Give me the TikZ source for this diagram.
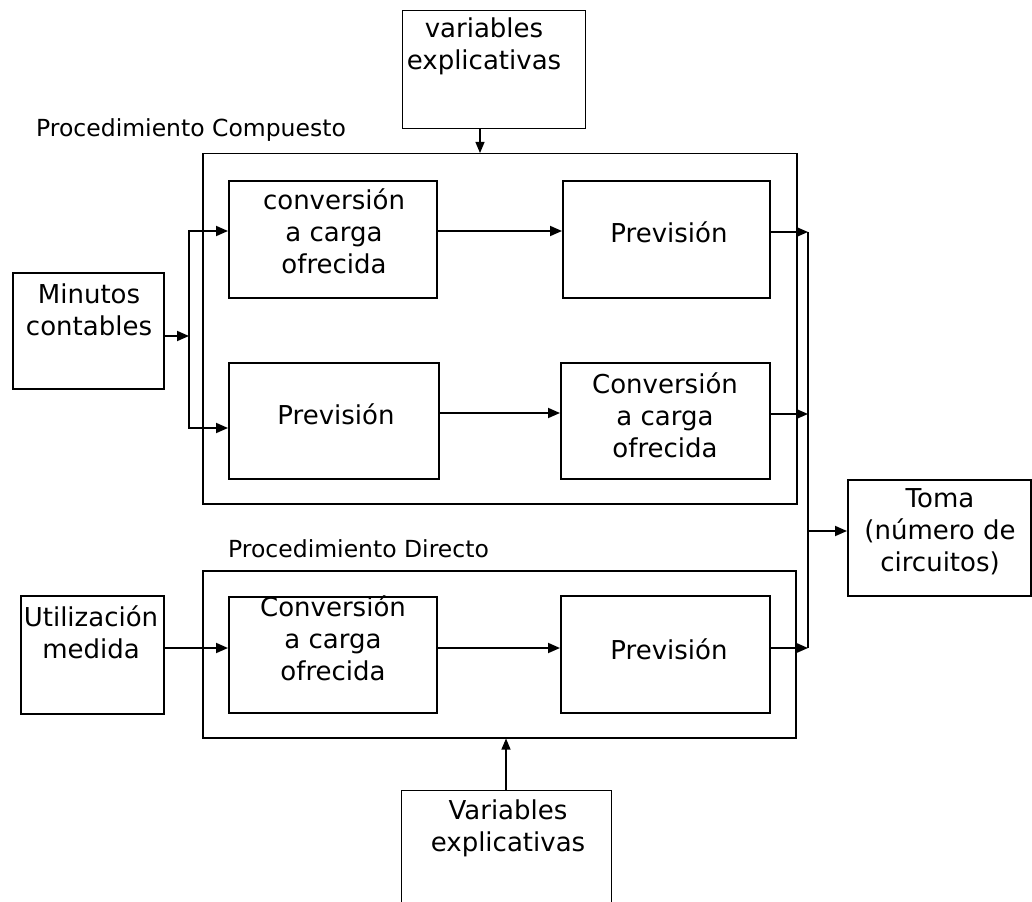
\documentclass[tikz,border=0pt]{standalone}
\usepackage{fontspec}
\setmainfont{DejaVu Sans}
\usetikzlibrary{arrows.meta,calc}
\begin{document}
\begin{tikzpicture}[x=1pt,y=-1pt,
  box/.style={draw,line width=1.7pt,inner sep=0pt,anchor=north west},
  outer/.style={draw,line width=1.5pt,inner sep=0pt,anchor=north west},
  % multi-line texts are placed by the baseline of their last line
  txt/.style={inner sep=0pt,anchor=base,align=center,font=\fontsize{26}{32}\selectfont},
  lbl/.style={inner sep=0pt,anchor=base west,font=\fontsize{23.5}{28}\selectfont},
  arr/.style={line width=1.8pt,-{Triangle[length=12pt,width=10pt]}},
  arrthin/.style={line width=1.1pt,-{Triangle[length=11pt,width=9pt]}},
  wire/.style={line width=1.8pt}]
\clip (0,0) rectangle (1032,901);
\fill[white] (0,0) rectangle (1032,901);

% outer frames of the two procedures
\node[outer,minimum width=594pt,minimum height=350pt] (comp) at (202,153) {};
\node[outer,minimum width=593pt,minimum height=167pt] (dir) at (202,570) {};
\node[lbl] (lcomp) at (36,137) {Procedimiento Compuesto};
\node[lbl] (ldir) at (228,557) {Procedimiento Directo};

% input / output boxes
\node[box,line width=1.4pt,minimum width=183pt,minimum height=118pt] (varTop) at (402,10) {};
\node[txt] (tvarTop) at (484,70) {variables\\explicativas};
\node[box,minimum width=151pt,minimum height=116pt] (minutos) at (12,272) {};
\node[txt] (tminutos) at (89,335) {Minutos\\contables};
\node[box,minimum width=143pt,minimum height=118pt] (util) at (20,595) {};
\node[txt] (tutil) at (91,658) {Utilización\\medida};
\node[box,minimum width=183pt,minimum height=116pt] (toma) at (847,479) {};
\node[txt] (ttoma) at (940,571) {Toma\\(número de\\circuitos)};
\node[box,line width=1.4pt,minimum width=210pt,minimum height=140pt] (varBot) at (401,790) {};
\node[txt] (tvarBot) at (508,851) {Variables\\explicativas};

% processing steps
\node[box,minimum width=208pt,minimum height=117pt] (cc1) at (228,180) {};
\node[txt] (tcc1) at (334,273) {conversión\\a carga\\ofrecida};
\node[box,minimum width=207pt,minimum height=117pt] (pv1) at (562,180) {};
\node[txt] (tpv1) at (669,243) {Previsión};
\node[box,minimum width=210pt,minimum height=116pt] (pv2) at (228,362) {};
\node[txt] (tpv2) at (336,424) {Previsión};
\node[box,minimum width=209pt,minimum height=116pt] (cc2) at (560,362) {};
\node[txt] (tcc2) at (665,457) {Conversión\\a carga\\ofrecida};
\node[box,minimum width=208pt,minimum height=116pt] (cc3) at (228,596) {};
\node[txt] (tcc3) at (333,680) {Conversión\\a carga\\ofrecida};
\node[box,minimum width=209pt,minimum height=117pt] (pv3) at (560,595) {};
\node[txt] (tpv3) at (669,659) {Previsión};

% junction points
\coordinate (split) at (189,336);
\coordinate (m1) at (808,232);
\coordinate (m2) at (808,414);
\coordinate (m3) at (808,648);
\coordinate (merge) at (808,531);

% compound procedure
\draw[arr] (minutos.east |- split) -- (split);
\draw[arr] (split) |- (cc1.west |- 0,231);
\draw[arr] (split) |- (pv2.west |- 0,428);
\draw[arr] (cc1.east |- 0,231) -- (pv1.west |- 0,231);
\draw[arr] (pv2.east |- 0,413) -- (cc2.west |- 0,413);
\draw[arrthin] (varTop.south -| 480,0) -- (comp.north -| 480,0);

% direct procedure
\draw[arr] (util.east |- 0,648) -- (cc3.west |- 0,648);
\draw[arr] (cc3.east |- 0,648) -- (pv3.west |- 0,648);
\draw[arrthin] (varBot.north -| 506,0) -- (dir.south -| 506,0);

% merging into the result
\draw[wire] (m1) -- (m3);
\draw[arr] (pv1.east |- m1) -- (m1);
\draw[arr] (cc2.east |- m2) -- (m2);
\draw[arr] (pv3.east |- m3) -- (m3);
\draw[arr] (merge) -- (toma.west |- merge);
\end{tikzpicture}
\end{document}
